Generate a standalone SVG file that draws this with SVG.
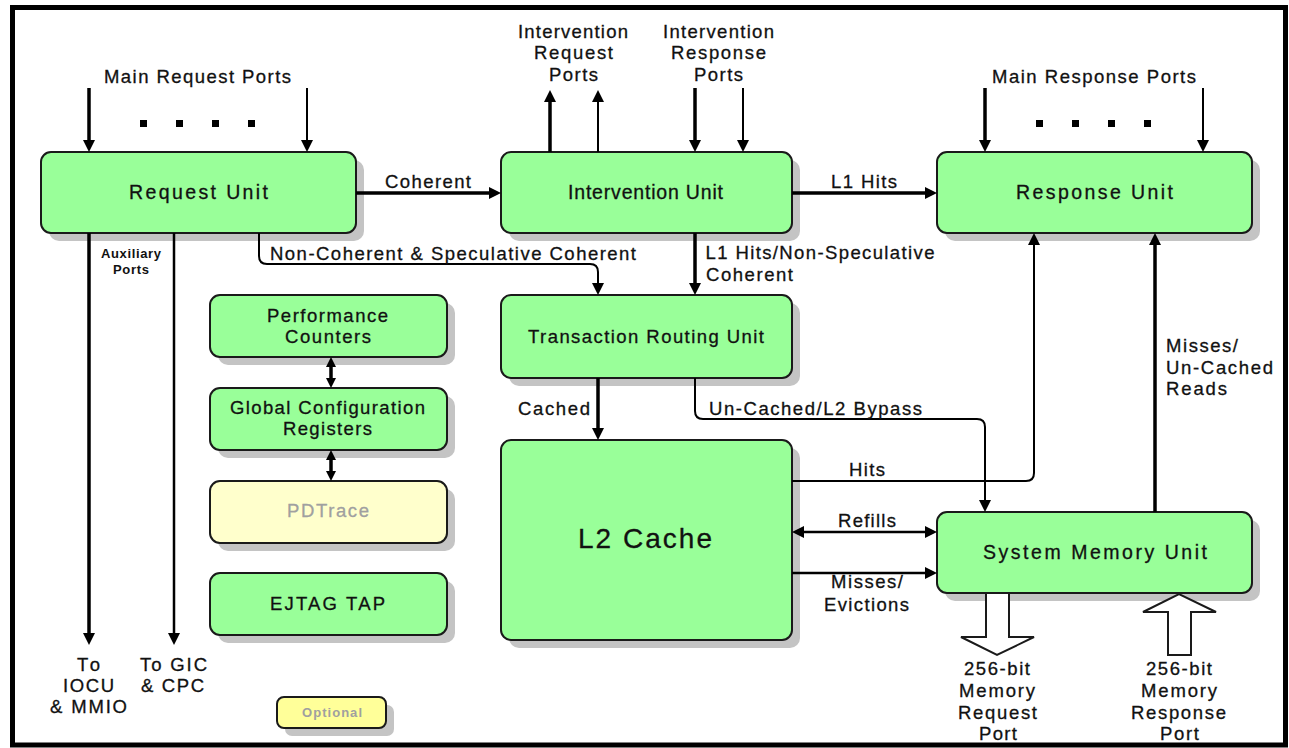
<svg xmlns="http://www.w3.org/2000/svg" width="1289" height="748" viewBox="0 0 1289 748">
<defs>
<marker id="ah" viewBox="0 0 12 12" refX="6" refY="6" markerWidth="12" markerHeight="12" markerUnits="userSpaceOnUse" orient="auto-start-reverse"><path d="M0,0 L12,6 L0,12 z" fill="#000"/></marker>
<marker id="ahs" viewBox="0 0 10 10" refX="5" refY="5" markerWidth="10" markerHeight="10" markerUnits="userSpaceOnUse" orient="auto-start-reverse"><path d="M0,0 L10,5 L0,10 z" fill="#000"/></marker>
</defs>
<style>
.box{fill:#99ff99;stroke:#1a1a1a;stroke-width:2}
.sh{fill:#c4c4c4}
.opt{fill:#ffffcc;stroke:#1a1a1a;stroke-width:2}
.opt2{fill:#ffff99;stroke:#1a1a1a;stroke-width:2}
text{font-family:"Liberation Sans",Arial,sans-serif;fill:#111;stroke:#111;stroke-width:0.3;text-anchor:middle}
.n{font-size:19.5px}
.l{font-size:18.5px}
.s{font-size:13px;font-weight:bold;stroke-width:0}
.g{fill:#a0a0a0;stroke:#a0a0a0}
.ln{stroke:#000;fill:none}
.t3{stroke-width:3.5}
.t2{stroke-width:2}
.t25{stroke-width:2.5}
.blk{fill:#fff;stroke:#1a1a1a;stroke-width:2}
</style>
<rect x="0" y="0" width="1289" height="748" fill="#fff"/>
<rect x="12.5" y="7.5" width="1273" height="737.5" fill="none" stroke="#000" stroke-width="5"/>

<g id="request-unit">
<rect class="sh" x="49" y="160" width="315" height="81" rx="10"/>
<rect class="box" x="41" y="152" width="315" height="81" rx="10"/>
<text class="n" x="198.5" y="199" textLength="139" lengthAdjust="spacing">Request Unit</text>
</g>
<g id="intervention-unit">
<rect class="sh" x="509" y="160" width="291" height="81" rx="10"/>
<rect class="box" x="501" y="152" width="291" height="81" rx="10"/>
<text class="n" x="645.5" y="199" textLength="155" lengthAdjust="spacing">Intervention Unit</text>
</g>
<g id="response-unit">
<rect class="sh" x="945" y="160" width="315" height="81" rx="10"/>
<rect class="box" x="937" y="152" width="315" height="81" rx="10"/>
<text class="n" x="1094.5" y="199" textLength="157" lengthAdjust="spacing">Response Unit</text>
</g>
<g id="transaction-routing-unit">
<rect class="sh" x="509" y="303" width="291" height="83" rx="10"/>
<rect class="box" x="501" y="295" width="291" height="83" rx="10"/>
<text class="l" x="646" y="343" textLength="236" lengthAdjust="spacing">Transaction Routing Unit</text>
</g>
<g id="l2-cache">
<rect class="sh" x="509" y="448" width="291" height="200" rx="10"/>
<rect class="box" x="501" y="440" width="291" height="200" rx="10"/>
<text x="645" y="548" style="font-size:28px" textLength="134" lengthAdjust="spacing">L2 Cache</text>
</g>
<g id="system-memory-unit">
<rect class="sh" x="945" y="520" width="315" height="81" rx="10"/>
<rect class="box" x="937" y="512" width="315" height="81" rx="10"/>
<text class="n" x="1095" y="559" textLength="224" lengthAdjust="spacing">System Memory Unit</text>
</g>
<g id="performance-counters">
<rect class="sh" x="218" y="303" width="237" height="62" rx="10"/>
<rect class="box" x="210" y="295" width="237" height="62" rx="10"/>
<text class="l" x="327.5" y="322" textLength="121" lengthAdjust="spacing">Performance</text>
<text class="l" x="328" y="343" textLength="86" lengthAdjust="spacing">Counters</text>
</g>
<g id="global-configuration-registers">
<rect class="sh" x="218" y="396" width="237" height="62" rx="10"/>
<rect class="box" x="210" y="388" width="237" height="62" rx="10"/>
<text class="l" x="327.5" y="414" textLength="195" lengthAdjust="spacing">Global Configuration</text>
<text class="l" x="327.5" y="435" textLength="89" lengthAdjust="spacing">Registers</text>
</g>
<g id="pdtrace">
<rect class="sh" x="218" y="489" width="237" height="62" rx="10"/>
<rect class="opt" x="210" y="481" width="237" height="62" rx="10"/>
<text class="l g" x="328" y="517" textLength="82" lengthAdjust="spacing">PDTrace</text>
</g>
<g id="ejtag-tap">
<rect class="sh" x="218" y="581" width="237" height="62" rx="10"/>
<rect class="box" x="210" y="573" width="237" height="62" rx="10"/>
<text class="l" x="327.5" y="610" textLength="115" lengthAdjust="spacing">EJTAG TAP</text>
</g>
<g id="optional-legend">
<rect class="sh" x="285" y="705" width="109" height="31" rx="7"/>
<rect class="opt2" x="277" y="697" width="109" height="31" rx="7"/>
<text class="s g" x="332" y="717" textLength="60" lengthAdjust="spacing" style="stroke-width:0">Optional</text>
</g>

<g id="connectors">
<line class="ln t3" x1="89" y1="88" x2="89" y2="146" marker-end="url(#ah)"/>
<line class="ln t2" x1="307" y1="88" x2="307" y2="146" marker-end="url(#ah)"/>
<rect x="140" y="120" width="7" height="7" fill="#000"/>
<rect x="176" y="120" width="7" height="7" fill="#000"/>
<rect x="212" y="120" width="7" height="7" fill="#000"/>
<rect x="248" y="120" width="7" height="7" fill="#000"/>
<line class="ln t3" x1="550" y1="152" x2="550" y2="96" marker-end="url(#ah)"/>
<line class="ln t2" x1="598" y1="152" x2="598" y2="96" marker-end="url(#ah)"/>
<line class="ln t3" x1="695" y1="88" x2="695" y2="146" marker-end="url(#ah)"/>
<line class="ln t2" x1="743" y1="88" x2="743" y2="146" marker-end="url(#ah)"/>
<line class="ln t3" x1="985" y1="88" x2="985" y2="146" marker-end="url(#ah)"/>
<line class="ln t2" x1="1203" y1="88" x2="1203" y2="146" marker-end="url(#ah)"/>
<rect x="1036" y="120" width="7" height="7" fill="#000"/>
<rect x="1072" y="120" width="7" height="7" fill="#000"/>
<rect x="1108" y="120" width="7" height="7" fill="#000"/>
<rect x="1144" y="120" width="7" height="7" fill="#000"/>
<line class="ln t3" x1="356" y1="193" x2="495" y2="193" marker-end="url(#ah)"/>
<line class="ln t3" x1="792" y1="193" x2="931" y2="193" marker-end="url(#ah)"/>
<path class="ln t2" d="M259,233 V256 Q259,264 267,264 H590 Q598,264 598,272 V289" marker-end="url(#ah)"/>
<line class="ln t3" x1="695" y1="233" x2="695" y2="289" marker-end="url(#ah)"/>
<line class="ln t3" x1="89" y1="233" x2="89" y2="639" marker-end="url(#ah)"/>
<line class="ln t25" x1="174" y1="233" x2="174" y2="639" marker-end="url(#ah)"/>
<line class="ln t3" x1="331" y1="362" x2="331" y2="383" marker-start="url(#ahs)" marker-end="url(#ahs)"/>
<line class="ln t3" x1="331" y1="455" x2="331" y2="476" marker-start="url(#ahs)" marker-end="url(#ahs)"/>
<line class="ln t3" x1="598" y1="378" x2="598" y2="434" marker-end="url(#ah)"/>
<path class="ln t2" d="M695,378 V411 Q695,419 703,419 H977 Q985,419 985,427 V506" marker-end="url(#ah)"/>
<path class="ln t2" d="M792,481 H1026 Q1034,481 1034,473 V239" marker-end="url(#ah)"/>
<line class="ln t25" x1="798" y1="532" x2="931" y2="532" marker-start="url(#ah)" marker-end="url(#ah)"/>
<line class="ln t25" x1="792" y1="573" x2="931" y2="573" marker-end="url(#ah)"/>
<line class="ln t3" x1="1155" y1="512" x2="1155" y2="239" marker-end="url(#ah)"/>
<polygon class="blk" points="986,593 1009,593 1009,637 1034,637 997,655 961,637 986,637"/>
<polygon class="blk" points="1168,655 1191,655 1191,612 1216,612 1179,594 1143,612 1168,612"/>
</g>

<g id="labels">
<text class="l" x="197.5" y="83" textLength="187" lengthAdjust="spacing">Main Request Ports</text>
<text class="l" x="573" y="38" textLength="110" lengthAdjust="spacing">Intervention</text>
<text class="l" x="573.5" y="59" textLength="79" lengthAdjust="spacing">Request</text>
<text class="l" x="573.5" y="81" textLength="49" lengthAdjust="spacing">Ports</text>
<text class="l" x="718.5" y="38" textLength="111" lengthAdjust="spacing">Intervention</text>
<text class="l" x="718.5" y="59" textLength="95" lengthAdjust="spacing">Response</text>
<text class="l" x="718.5" y="81" textLength="49" lengthAdjust="spacing">Ports</text>
<text class="l" x="1094" y="83" textLength="204" lengthAdjust="spacing">Main Response Ports</text>
<text class="l" x="428" y="188" textLength="86" lengthAdjust="spacing">Coherent</text>
<text class="l" x="864" y="188" textLength="66" lengthAdjust="spacing">L1 Hits</text>
<text class="l" x="453" y="260" textLength="366" lengthAdjust="spacing">Non-Coherent &amp; Speculative Coherent</text>
<text class="l" x="820" y="259" textLength="229" lengthAdjust="spacing">L1 Hits/Non-Speculative</text>
<text class="l" x="749.5" y="281" textLength="87" lengthAdjust="spacing">Coherent</text>
<text class="s" x="131" y="258" textLength="60" lengthAdjust="spacing">Auxiliary</text>
<text class="s" x="131" y="274" textLength="36" lengthAdjust="spacing">Ports</text>
<text class="l" x="88.5" y="671" textLength="23" lengthAdjust="spacing">To</text>
<text class="l" x="88.5" y="692" textLength="51" lengthAdjust="spacing">IOCU</text>
<text class="l" x="88.5" y="713" textLength="77" lengthAdjust="spacing">&amp; MMIO</text>
<text class="l" x="173.5" y="671" textLength="67" lengthAdjust="spacing">To GIC</text>
<text class="l" x="172.5" y="692" textLength="63" lengthAdjust="spacing">&amp; CPC</text>
<text class="l" x="554" y="415" textLength="72" lengthAdjust="spacing">Cached</text>
<text class="l" x="815.5" y="415" textLength="213" lengthAdjust="spacing">Un-Cached/L2 Bypass</text>
<text class="l" x="867" y="476" textLength="36" lengthAdjust="spacing">Hits</text>
<text class="l" x="867" y="527" textLength="58" lengthAdjust="spacing">Refills</text>
<text class="l" x="867" y="588" textLength="72" lengthAdjust="spacing">Misses/</text>
<text class="l" x="866.5" y="611" textLength="85" lengthAdjust="spacing">Evictions</text>
<text class="l" x="1202" y="352" textLength="72" lengthAdjust="spacing">Misses/</text>
<text class="l" x="1219.5" y="374" textLength="107" lengthAdjust="spacing">Un-Cached</text>
<text class="l" x="1196.5" y="395" textLength="61" lengthAdjust="spacing">Reads</text>
<text class="l" x="997" y="675" textLength="66" lengthAdjust="spacing">256-bit</text>
<text class="l" x="997" y="697" textLength="76" lengthAdjust="spacing">Memory</text>
<text class="l" x="997.5" y="719" textLength="79" lengthAdjust="spacing">Request</text>
<text class="l" x="998" y="740" textLength="38" lengthAdjust="spacing">Port</text>
<text class="l" x="1179" y="675" textLength="66" lengthAdjust="spacing">256-bit</text>
<text class="l" x="1179" y="697" textLength="76" lengthAdjust="spacing">Memory</text>
<text class="l" x="1178.5" y="719" textLength="95" lengthAdjust="spacing">Response</text>
<text class="l" x="1179.5" y="740" textLength="39" lengthAdjust="spacing">Port</text>
</g>
</svg>
